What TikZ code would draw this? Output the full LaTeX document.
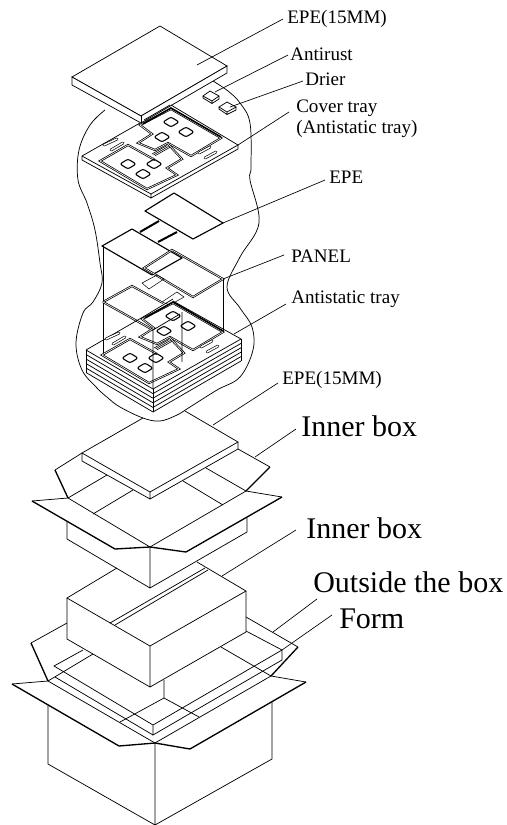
\documentclass[tikz,border=0pt]{standalone}
\usepackage{fontspec}
\setmainfont{Liberation Serif}
\tikzset{
  ln/.style={line width=.55pt,line join=miter},
  thk/.style={line width=1pt,line join=round},
  dbl/.style={line width=.55pt,double=white,double distance=.45pt,line join=miter},
  slt/.style={line width=.5pt,double=white,double distance=1.1pt,line cap=round},
  hvy/.style={line width=1.5pt},
  lead/.style={line width=.5pt},
  lab/.style={inner sep=0pt,anchor=base west,font=\fontsize{14.3}{16}\selectfont},
  big/.style={inner sep=0pt,anchor=base west,font=\fontsize{22.5}{26}\selectfont}
}
\newcommand\roundrh[2]{\draw[line width=.8pt,rounded corners=1.6pt] (#1-8,#2) -- (#1,#2-5) -- (#1+8,#2) -- (#1,#2+5) -- cycle;}
\newcommand\slot[4]{\draw[slt] (#1,#2) -- (#3,#4);}
\newcommand\traydetail{
  \draw[dbl] (140,125) -- (171,109) -- (221,138) -- (191,156) -- (168,143) -- (155,150) -- (138,143) -- (152,134) -- cycle;
  \draw[line width=1.2pt] (143,124) -- (171,108) -- (221,137);
  \draw[dbl] (155,160) -- (128,145) -- (100,161) -- (147,189) -- (177,175) -- (167,168) -- (182,159) -- (168,144);
  \foreach \k in {0,1.5,3}{\draw[line width=.45pt] (152+\k,154+\k*.6) -- (167+\k,145.5+\k*.6);}
  \roundrh{171}{122}\roundrh{186}{132}\roundrh{162}{137}
  \roundrh{128}{164}\roundrh{154}{164}\roundrh{143}{174}
  \slot{104}{145}{117}{139}\slot{111}{150}{123}{143}
  \slot{199}{153}{210}{147}\slot{205}{158}{216}{152}
}
\begin{document}
\begin{tikzpicture}[x=.75pt,y=-.75pt]
\useasboundingbox (0,0) rectangle (507,825);
% outline
\draw[ln] plot[smooth,tension=.6] coordinates {(105,110) (90,125) (79,150) (78,180) (87,203) (95,230) (100,263) (102,283) (93,302) (83,313) (76,343) (82,370) (97,388) (108,398) (120,407) (143,418) (160,421) (177,415) (190,407) (217,390) (240,377) (253,350) (252,327) (240,308) (227,287) (240,257) (259,223) (250,180) (251,167) (250,123) (240,103) (228,91) (213,81)};
% top slab
\draw[ln,fill=white] (72,77) -- (160,26) -- (227,66) -- (141,116) -- cycle;
\draw[ln,fill=white] (72,77) -- (72,85) -- (141,123) -- (227,73) -- (227,66) -- (141,116) -- cycle;
\draw[ln] (141,116) -- (141,123);
% small boxes
\draw[ln] (203,96) -- (210,91) -- (219,96) -- (212,101) -- cycle (203,96) -- (203,98) -- (212,103.5) -- (219,99) -- (219,96) (212,101) -- (212,103.5);
\draw[ln] (219,107) -- (227,102) -- (236,107) -- (227,112) -- cycle (219,107) -- (219,109) -- (227,114.5) -- (236,110) -- (236,107) (227,112) -- (227,114.5);
% cover tray
\draw[ln] (82,156) -- (140,123);
\draw[ln] (171,105) -- (238,145) -- (151,194) -- (82,156);
\draw[ln] (82,156) -- (82,160) -- (151,198) -- (238,149) -- (238,145) (151,194) -- (151,198);
\draw[ln] (144,120) -- (170,105);
\traydetail
% EPE sheet
\draw[thk,line width=.85pt] (145,211) -- (174,193) -- (223,223) -- (193,239) -- cycle;
\draw[hvy] (140,232) -- (159,221) (158,242) -- (177,232);
% upper panel
\draw[thk,line width=.85pt] (102,246) -- (132,229) -- (182,258) -- (152,275) -- cycle;
\draw[dbl] (172,250) -- (144,268) -- (193,297) -- (223,279) -- cycle;
% little rectangles
\draw[line width=.4pt] (142,283) -- (157,275) -- (164,279) -- (149,289) -- cycle;
\draw[line width=.4pt] (162,302) -- (177,292) -- (184,297) -- (170,305) -- cycle;
% verticals
\draw[ln,line width=.7pt] (103,246) -- (103,357);
\draw[ln] (223,279) -- (223,333);
\draw[dbl] (103,302) -- (132,286) -- (163,303);
\draw[dbl] (103,302) -- (153,330);
% antistatic stack
\draw[ln] (86,350) -- (143,317) -- (173,299) (173,301) -- (241,339) -- (153,389) -- (86,350);
\foreach \k in {1,2,3,4,5}{
  \draw[ln] (86,350+\k*4.5) -- (153,389+\k*4.6) -- (241,339+\k*4.4);
}
\draw[ln] (86,350) -- (86,372.5) (241,339) -- (241,361) (153,389) -- (153,412);
\begin{scope}[shift={(2,194)}]\traydetail\end{scope}
\draw[ln] (153,330) -- (153,389) (182,312) -- (182,362) (153,330) -- (180,314);
% EPE(15MM) + inner box
\draw[ln] (82,453) -- (143,418) (185,411) -- (238,442) -- (150,492) -- (82,453);
\draw[ln] (82,453) -- (82,461) -- (150,499) -- (238,449) -- (238,442) (150,492) -- (150,499);
\draw[ln] (82,453) -- (55,470) (238,449) -- (270,467);
\draw[thk] (55,470) -- (68,498) (270,467) -- (246,491);
\draw[ln] (68,498) -- (32,501) (246,491) -- (282,497);
\draw[thk] (32,501) -- (115,549) -- (150,547) -- (186,552) -- (282,497);
\draw[ln] (68,498) -- (150,547) -- (246,491);
\draw[ln] (68,498) -- (107,475) (93,514) -- (133,490) (206,468) -- (246,491) (183,481) -- (223,505);
\draw[ln] (67,522) -- (67,539) -- (150,588) -- (247,532) -- (247,518) (150,547) -- (150,588);
% inner box 2
\draw[ln] (117,568) -- (67,598) -- (150,646) -- (246,591) -- (197,562);
\draw[ln] (67,598) -- (67,639) -- (150,687) -- (246,632) -- (246,591) (150,646) -- (150,687);
\draw[ln] (110,623) -- (205,568) (115,625) -- (208,570);
% outer box
\draw[ln] (67,623) -- (31,643) (246,617) -- (298,647);
\draw[thk] (31,643) -- (48,681) (298,647) -- (271,676);
\draw[ln] (48,681) -- (12,684) (271,676) -- (306,682);
\draw[thk] (12,684) -- (119,746) -- (155,743) -- (190,749) -- (306,682);
\draw[ln] (48,681) -- (155,743) -- (271,676);
\draw[ln] (48,705) -- (48,764) -- (155,825) -- (272,759) -- (272,702) (155,743) -- (155,825);
% form
\draw[ln] (83,650) -- (54,666) -- (153,725) -- (282,650) -- (282,660) -- (153,735) -- (153,725);
\draw[ln] (55,677) -- (153,735);
\draw[ln] (48,681) -- (93,654);
\draw[ln] (246,631) -- (282,650);
\draw[ln] (120,722) -- (164,698) -- (199,717) (164,680) -- (164,698);
\draw[ln] (221,647) -- (271,676);
% labels
\node[lab] (a) at (287,23) {EPE(15MM)};
\node[lab] (b) at (290,60) {Antirust};
\node[lab] (c) at (305,85) {Drier};
\node[lab] (d) at (296,112) {Cover tray};
\node[lab] (d2) at (296,133) {(Antistatic tray)};
\node[lab] (e) at (329,183) {EPE};
\node[lab] (f) at (291,262) {PANEL};
\node[lab] (g) at (291,303) {Antistatic tray};
\node[lab] (h) at (282,384) {EPE(15MM)};
\node[big] (i) at (301,436) {Inner box};
\node[big] (j) at (306,538) {Inner box};
\node[big] (k) at (313,592) {Outside the box};
\node[big] (l) at (339,628) {Form};
% leader ends
\coordinate (ax) at (283,19); \coordinate (at) at (197,65);
\coordinate (bx) at (288,55); \coordinate (bt) at (215,92);
\coordinate (cx) at (303,81); \coordinate (ct) at (230,107);
\coordinate (dx) at (289,112); \coordinate (dt) at (238,145);
\coordinate (ex) at (325,180); \coordinate (et) at (223,223);
\coordinate (fx) at (284,255); \coordinate (ft) at (223,279);
\coordinate (gx) at (286,304); \coordinate (gt) at (234,334);
\coordinate (hx) at (278,383); \coordinate (ht) at (213,425);
\coordinate (ix) at (296,429); \coordinate (it) at (255,457);
\coordinate (jx) at (296,530); \coordinate (jt) at (222,576);
\coordinate (kx) at (317,599); \coordinate (kt) at (273,632);
\coordinate (lx) at (332,615); \coordinate (lt) at (282,650);
\foreach \u/\v in {ax/at,bx/bt,cx/ct,dx/dt,ex/et,fx/ft,gx/gt,hx/ht,ix/it,jx/jt,kx/kt,lx/lt}{\draw[lead] (\u) -- (\v);}
\end{tikzpicture}
\end{document}
